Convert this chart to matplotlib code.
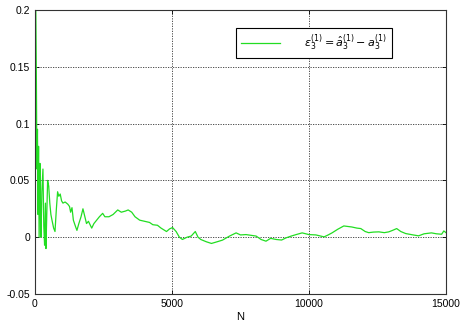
import matplotlib
matplotlib.use("Agg")
import matplotlib.pyplot as plt

N = [0, 10, 30, 50, 70, 90, 110, 130, 150, 180, 200, 220, 250, 290, 320, 350, 380, 400, 430, 460,
     500, 540, 580, 620, 680, 730, 780, 825, 870, 920, 970, 1020, 1100, 1200, 1260, 1300, 1350, 1400,
     1470, 1530, 1600, 1680, 1750, 1800, 1880, 1950, 2070, 2150, 2250, 2350, 2470, 2550, 2700, 2850,
     3020, 3150, 3300, 3400, 3530, 3650, 3820, 4000, 4180, 4300, 4470, 4600, 4800, 4910, 5020, 5150,
     5270, 5380, 5550, 5700, 5850, 5950, 6050, 6250, 6440, 6650, 6840, 7100, 7340, 7500, 7700, 8070,
     8250, 8430, 8600, 8800, 9000, 9160, 9350, 9530, 9750, 10000, 10250, 10550, 10700, 10840, 11050,
     11270, 11400, 11560, 11750, 11890, 12050, 12180, 12350, 12550, 12750, 12910, 13050, 13200, 13350,
     13530, 13800, 14000, 14200, 14470, 14650, 14840, 14920, 15000]
eps = [-0.08, 0.25, 0.2, 0.14, 0.06, 0.095, 0.02, 0.08, 0.0, 0.065, 0.02, 0.0, 0.04, 0.06, 0.01, -0.007,
       0.03, -0.01, 0.02, 0.05, 0.045, 0.03, 0.02, 0.015, 0.008, 0.005, 0.025, 0.04, 0.036, 0.038, 0.032,
       0.030, 0.031, 0.029, 0.027, 0.022, 0.026, 0.015, 0.010, 0.006, 0.012, 0.018, 0.025, 0.020, 0.012,
       0.014, 0.008, 0.012, 0.015, 0.018, 0.021, 0.018, 0.018, 0.020, 0.024, 0.022, 0.023, 0.024, 0.022,
       0.018, 0.015, 0.014, 0.013, 0.011, 0.0105, 0.008, 0.005, 0.0073, 0.0085, 0.005, 0.0, -0.002, 0.0,
       0.001, 0.005, 0.0, -0.002, -0.004, -0.0055, -0.004, -0.0026, 0.001, 0.0038, 0.002, 0.0023, 0.001,
       -0.002, -0.0035, -0.001, -0.002, -0.0025, -0.0006, 0.001, 0.0023, 0.0038, 0.0023, 0.002, 0.0003,
       0.002, 0.0038, 0.007, 0.0099, 0.0095, 0.009, 0.008, 0.0076, 0.005, 0.004, 0.0045, 0.0047, 0.004,
       0.0047, 0.006, 0.0076, 0.005, 0.0032, 0.002, 0.0012, 0.003, 0.0038, 0.003, 0.0026, 0.0055, 0.004]

xticks = [0, 5000, 10000, 15000]
yticks = [-0.05, 0, 0.05, 0.1, 0.15, 0.2]
yticklabels = ["-0.05", "0", "0.05", "0.1", "0.15", "0.2"]

plt.rcParams['font.family'] = ['Liberation Sans', 'DejaVu Sans']
fig = plt.figure(figsize=(4.63, 3.25), dpi=100)
ax = fig.add_axes([35/463, 1-294/325, 411/463, 284/325])
ax.plot(N, eps, color='#22dd22', lw=0.9,
        label=r'$\varepsilon_3^{(1)} = \hat{a}_3^{(1)} - a_3^{(1)}$')
ax.set_xlim(0, 15000)
ax.set_ylim(-0.05, 0.2)
ax.set_xticks(xticks)
ax.set_xticklabels([str(t) for t in xticks])
ax.set_yticks(yticks)
ax.set_yticklabels(yticklabels)
ax.tick_params(direction='in', labelsize=7.5, length=3, top=True, right=True, width=0.6)
ax.grid(True, color='#333333', linestyle=(0, (1.5, 1.5)), linewidth=0.6)
for s in ax.spines.values():
    s.set_linewidth(0.8)
    s.set_color('#333333')
ax.set_xlabel('N', fontsize=8, labelpad=2)
leg = ax.legend(loc='upper left', bbox_to_anchor=(0.49, 0.937), fontsize=8, fancybox=False,
                framealpha=1, edgecolor='black', handlelength=3.5, borderpad=0.4,
                borderaxespad=0, handletextpad=2.2)
leg.get_frame().set_linewidth(0.8)
fig.savefig('out.png', dpi=100)
